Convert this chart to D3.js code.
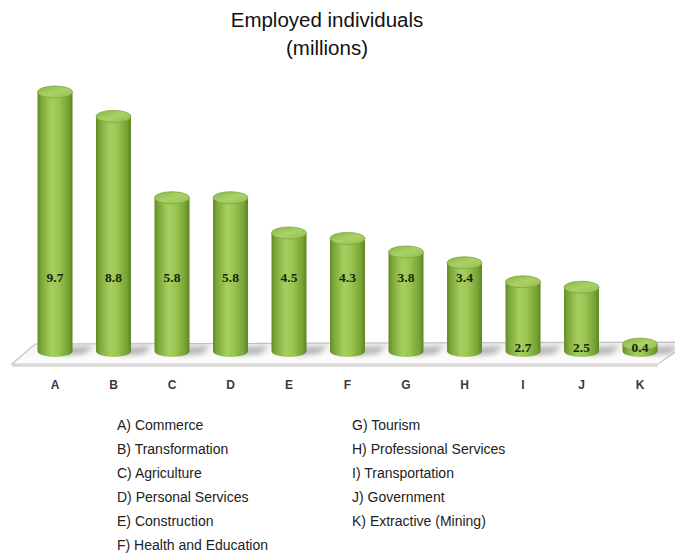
<!DOCTYPE html>
<html>
<head>
<meta charset="utf-8">
<script src="https://cdn.jsdelivr.net/npm/d3@7"></script>
<style>
  html, body { margin: 0; padding: 0; background: #ffffff; }
  svg { display: block; }
</style>
</head>
<body>
<div id="chart"></div>
<script>
// Chart data
const categories = ['A', 'B', 'C', 'D', 'E', 'F', 'G', 'H', 'I', 'J', 'K'];
const values = [9.7, 8.8, 5.8, 5.8, 4.5, 4.3, 3.8, 3.4, 2.7, 2.5, 0.4];
const sectors = [
  'Commerce', 'Transformation', 'Agriculture', 'Personal Services',
  'Construction', 'Health and Education', 'Tourism', 'Professional Services',
  'Transportation', 'Government', 'Extractive (Mining)'
];
const titleLines = ['Employed individuals', '(millions)'];

const width = 675, height = 554;
const baseY = 351;      // centre of the bottom ellipse of each cylinder
const barW = 35, ry = 6;

const svg = d3.select('#chart').append('svg')
  .attr('width', width)
  .attr('height', height);

const defs = svg.append('defs');

// cylinder body gradient
const bodyGrad = defs.append('linearGradient').attr('id', 'body').attr('x1', 0).attr('x2', 1).attr('y1', 0).attr('y2', 0);
[[0, '#618c27'], [0.12, '#7ea93a'], [0.4, '#a6cf60'], [0.6, '#9bc553'], [0.88, '#77a334'], [1, '#5c8524']]
  .forEach(([o, c]) => bodyGrad.append('stop').attr('offset', o).attr('stop-color', c));

const topGrad = defs.append('linearGradient').attr('id', 'top').attr('x1', 0).attr('x2', 1).attr('y1', 0).attr('y2', 1);
[[0, '#8ab545'], [0.5, '#a9d166'], [1, '#96c051']]
  .forEach(([o, c]) => topGrad.append('stop').attr('offset', o).attr('stop-color', c));

const floorGrad = defs.append('linearGradient').attr('id', 'floor').attr('x1', 0).attr('x2', 0).attr('y1', 0).attr('y2', 1);
[[0, '#f1f1f1'], [1, '#ffffff']]
  .forEach(([o, c]) => floorGrad.append('stop').attr('offset', o).attr('stop-color', c));

defs.append('filter').attr('id', 'blur').attr('x', '-50%').attr('y', '-50%').attr('width', '200%').attr('height', '200%')
  .append('feGaussianBlur').attr('stdDeviation', 2.5);

// scales
const x = d3.scalePoint().domain(categories).range([55, 640]);
const y = d3.scaleLinear().domain([0, d3.max(values)]).range([355, 92]);

// title
svg.append('g').selectAll('text')
  .data(titleLines)
  .join('text')
  .attr('x', 327)
  .attr('y', (d, i) => 27 + i * 28)
  .attr('text-anchor', 'middle')
  .style('font-family', 'Arial, "Liberation Sans", sans-serif')
  .style('font-size', '20.5px')
  .style('fill', '#111')
  .text(d => d);

// floor (3D plane)
const floor = svg.append('g');
floor.append('path')
  .attr('d', 'M35,344 L690,342 L658,364 L12,364 Z')
  .attr('fill', 'url(#floor)')
  .attr('stroke', '#c4c4c4')
  .attr('stroke-width', 1.2);
floor.append('path')
  .attr('d', 'M12,365.5 L658,365.5')
  .attr('stroke', '#d8d8d8')
  .attr('stroke-width', 2.5);

// shadows on the floor
floor.selectAll('path.shadow')
  .data(categories)
  .join('path')
  .attr('class', 'shadow')
  .attr('d', d => {
    const cx = x(d);
    return `M${cx + 6},${baseY + 5} L${cx + 30},${baseY + 3} L${cx + 38},${baseY - 5} L${cx + 12},${baseY - 4} Z`;
  })
  .attr('fill', '#8e8e8e')
  .attr('opacity', 0.6)
  .attr('filter', 'url(#blur)');

// cylinders
const bars = svg.append('g').selectAll('g.bar')
  .data(categories.map((c, i) => ({ cat: c, value: values[i] })))
  .join('g')
  .attr('class', 'bar');

bars.append('path')
  .attr('d', d => {
    const cx = x(d.cat), rx = barW / 2, top = y(d.value);
    return `M${cx - rx},${top} L${cx - rx},${baseY} A${rx},${ry} 0 0 0 ${cx + rx},${baseY} L${cx + rx},${top} Z`;
  })
  .attr('fill', 'url(#body)');

bars.append('ellipse')
  .attr('cx', d => x(d.cat))
  .attr('cy', d => y(d.value))
  .attr('rx', barW / 2)
  .attr('ry', ry)
  .attr('fill', 'url(#top)')
  .attr('stroke', '#7ea53c')
  .attr('stroke-width', 0.8);

// value labels: mid-height band for tall bars, near base for short ones
const labelBand = 282;
bars.append('text')
  .attr('x', d => x(d.cat))
  .attr('y', d => (y(d.value) + 18 <= labelBand + 4 ? labelBand : baseY + 1))
  .attr('text-anchor', 'middle')
  .style('font-family', '"Liberation Serif", "Times New Roman", serif')
  .style('font-weight', 'bold')
  .style('font-size', '13.5px')
  .style('fill', '#17260c')
  .text(d => d3.format('.1f')(d.value));

// category axis labels
svg.append('g').selectAll('text')
  .data(categories)
  .join('text')
  .attr('x', d => x(d))
  .attr('y', 389)
  .attr('text-anchor', 'middle')
  .style('font-family', 'Arial, "Liberation Sans", sans-serif')
  .style('font-weight', 'bold')
  .style('font-size', '12px')
  .style('fill', '#3a3a3a')
  .text(d => d);

// legend in two columns
svg.append('g').selectAll('text')
  .data(categories.map((c, i) => `${c}) ${sectors[i]}`))
  .join('text')
  .attr('x', (d, i) => (i < 6 ? 117 : 352))
  .attr('y', (d, i) => 430 + (i % 6) * 24)
  .style('font-family', 'Arial, "Liberation Sans", sans-serif')
  .style('font-size', '14px')
  .style('fill', '#222')
  .text(d => d);
</script>
</body>
</html>
